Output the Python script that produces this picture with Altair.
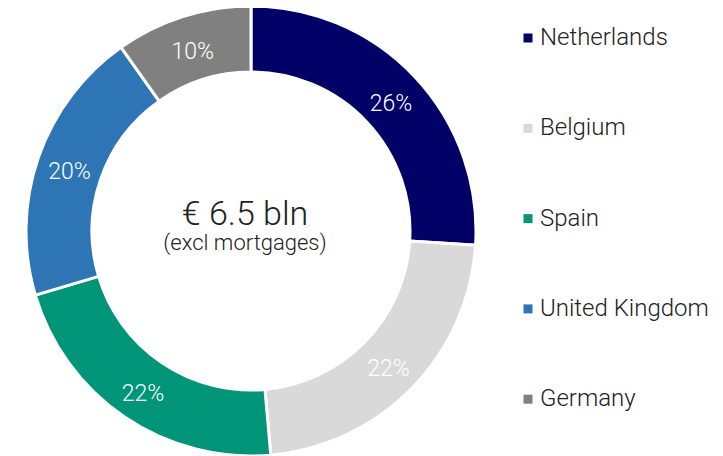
import altair as alt
import pandas as pd

countries = ["Netherlands", "Belgium", "Spain", "United Kingdom", "Germany"]
shares = [26.0, 22.6, 21.8, 19.8, 9.8]
labels = ["26%", "22%", "22%", "20%", "10%"]
colors = ["#000066", "#d9d9d9", "#009479", "#2e75b6", "#808080"]
center_lines = ["€ 6.5 bln", "(excl mortgages)"]

df = pd.DataFrame({"country": countries, "share": shares, "label": labels,
                   "idx": list(range(len(countries)))})

FONT = "Roboto"
cx, cy = 243, 223

base = alt.Chart(df).encode(
    theta=alt.Theta("share:Q", stack=True),
    order=alt.Order("idx:Q"),
)

arcs = base.mark_arc(innerRadius=159, outerRadius=225, stroke="white", strokeWidth=3).encode(
    x=alt.value(cx), y=alt.value(cy),
    color=alt.Color("country:N", sort=countries,
                    scale=alt.Scale(domain=countries, range=colors),
                    legend=alt.Legend(title=None, orient="none", legendX=508, legendY=18,
                                      symbolType="square", symbolSize=81,
                                      symbolStrokeWidth=0,
                                      labelFont=FONT, labelFontSize=24, labelFontWeight=300,
                                      labelColor="#222222", rowPadding=66.3, labelOffset=0,
                                      labelLimit=300)),
)

pct = base.mark_text(radius=192, dy=4, font=FONT, fontSize=23, fontWeight=300, color="white").encode(
    x=alt.value(cx), y=alt.value(cy),
    text="label:N",
)

cdf = pd.DataFrame({"t": center_lines, "k": [0, 1]})
c1 = alt.Chart(cdf[cdf.k == 0]).mark_text(font=FONT, fontSize=34, fontWeight=300, color="#222222").encode(
    x=alt.value(cx - 6), y=alt.value(cy - 16), text="t:N")
c2 = alt.Chart(cdf[cdf.k == 1]).mark_text(font=FONT, fontSize=22, fontWeight=300, color="#222222").encode(
    x=alt.value(cx - 6), y=alt.value(cy + 12), text="t:N")

chart = alt.layer(arcs, pct, c1, c2).properties(
    width=707, height=448, padding=0, autosize=alt.AutoSizeParams(type="none")
).configure_view(stroke=None)

chart.save("out.html", embed_options={"renderer": "svg", "actions": False})
